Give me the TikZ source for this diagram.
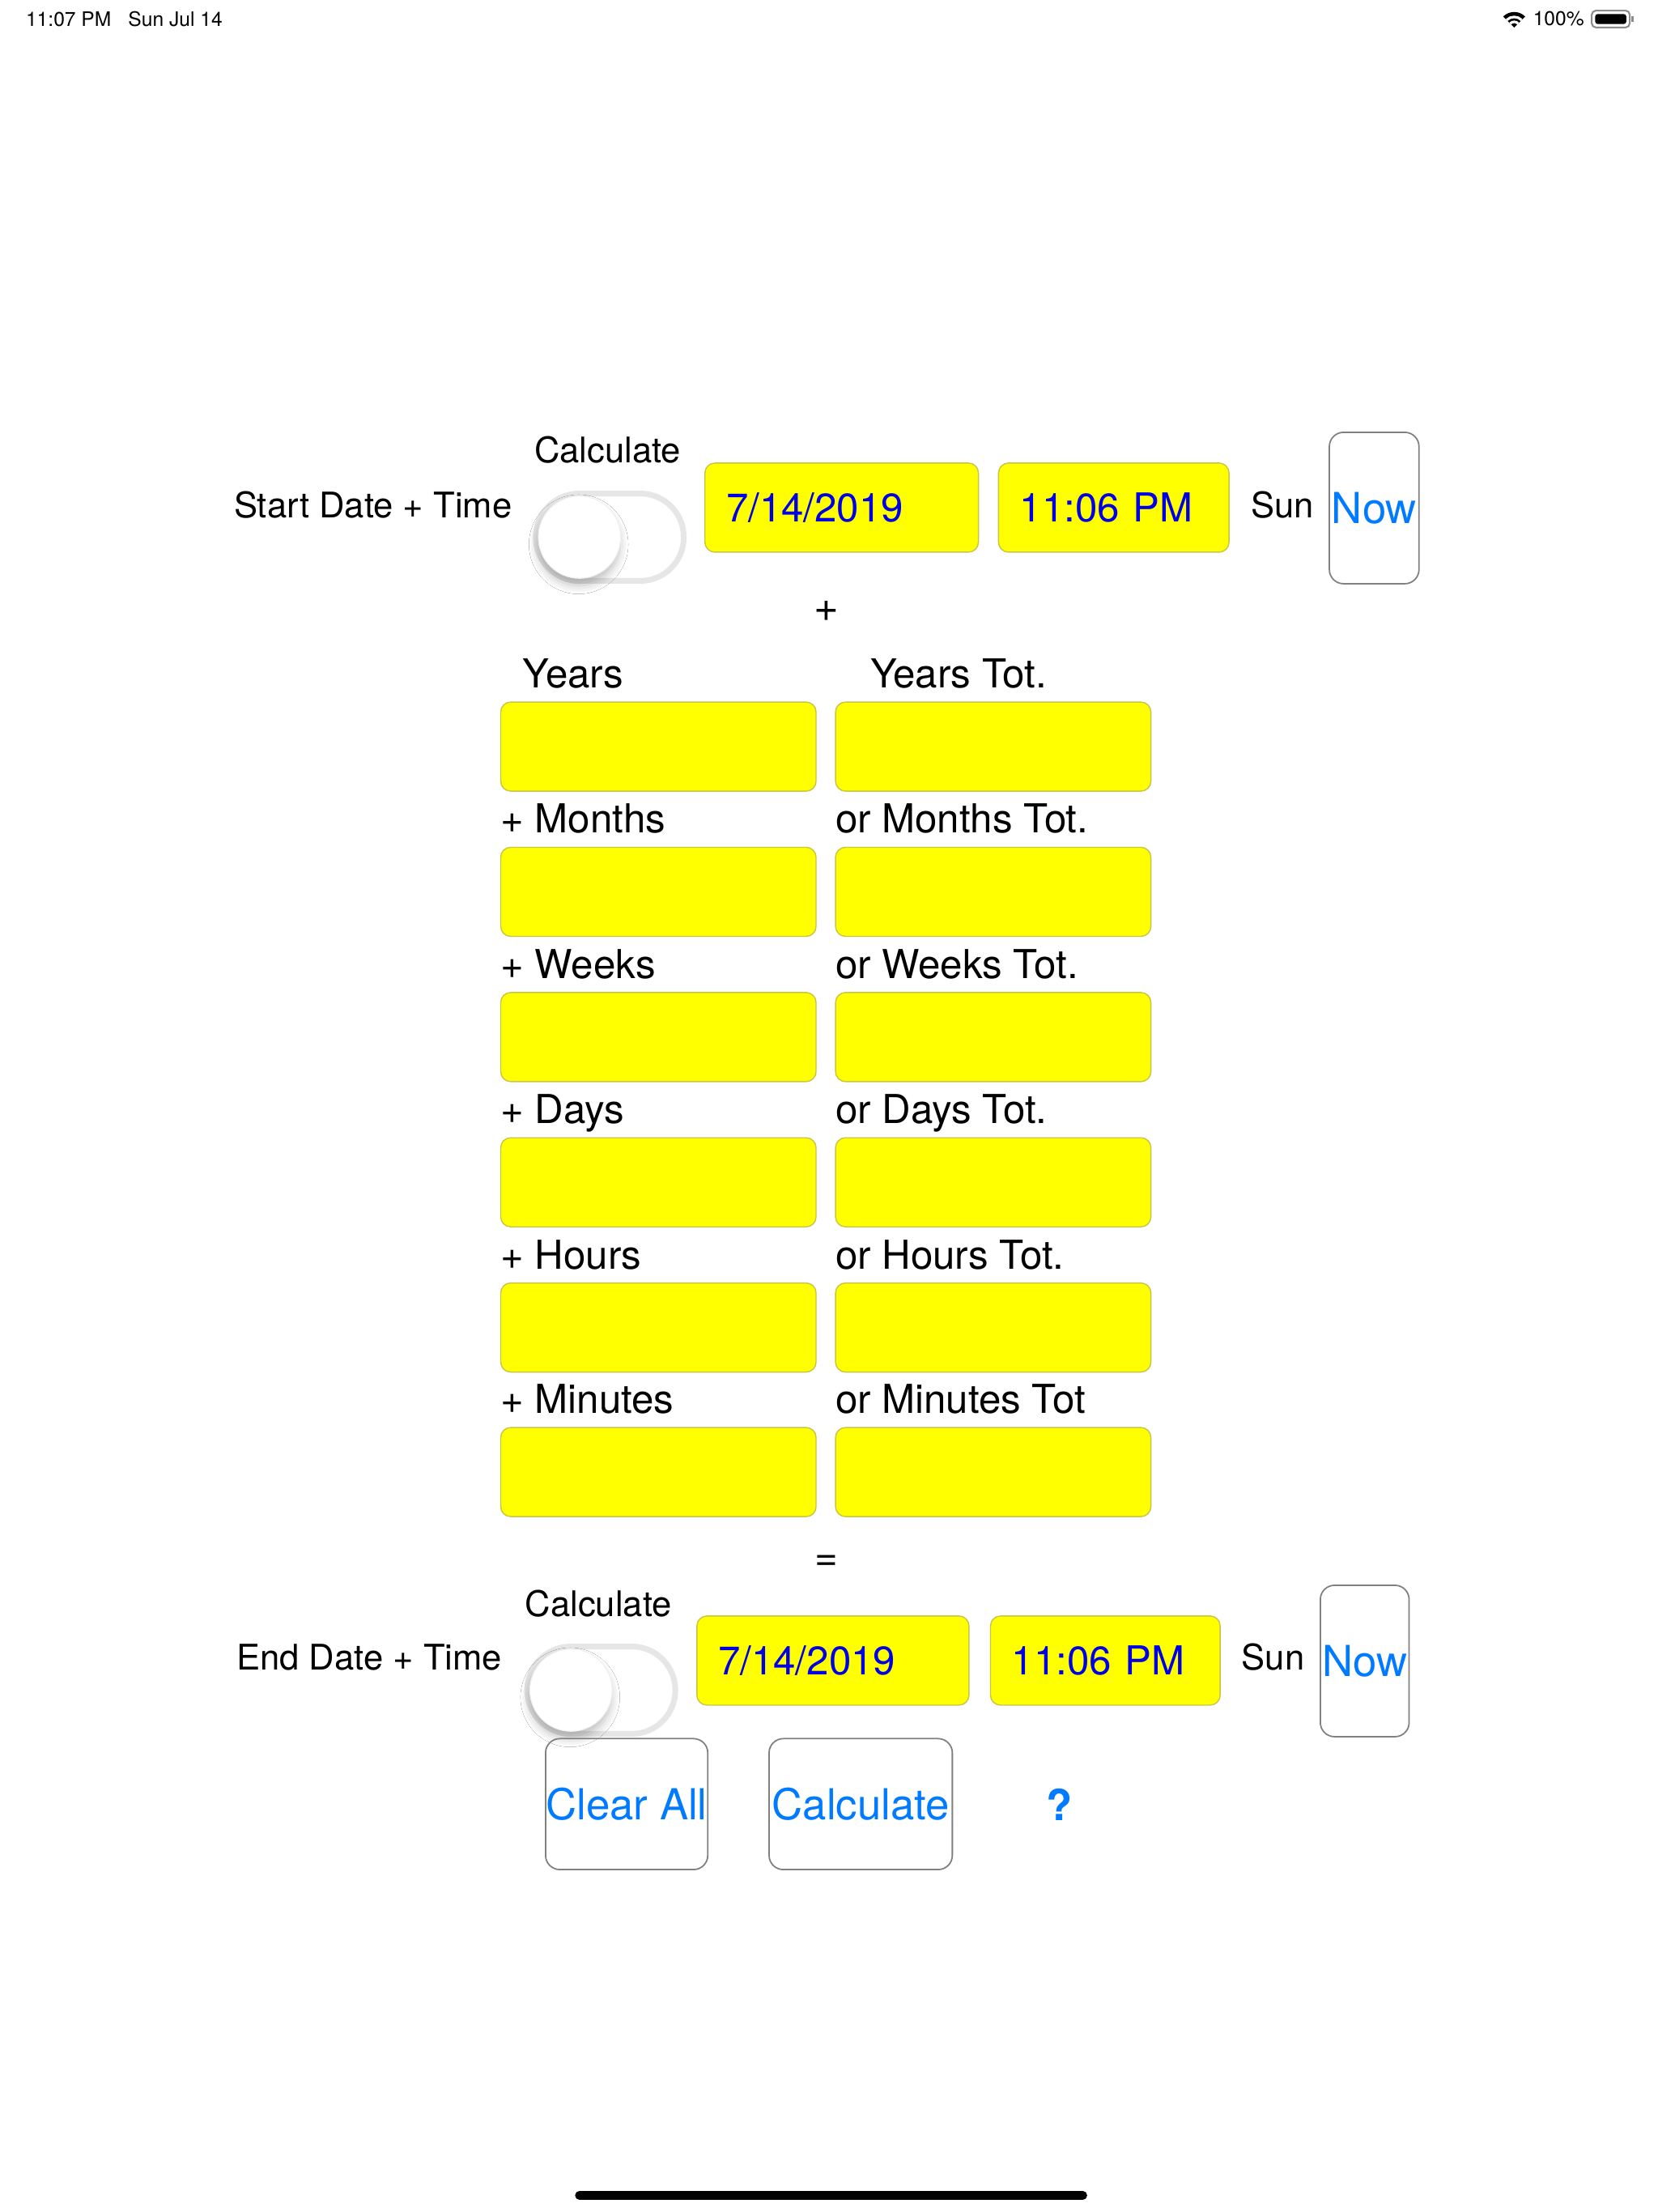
\documentclass[tikz,border=0pt]{standalone}
\usepackage{fontspec}
\setmainfont{TeX Gyre Heros}
\usetikzlibrary{positioning,shadows.blur}
\definecolor{fieldyellow}{RGB}{255,255,0}
\definecolor{fieldedge}{RGB}{200,196,70}
\definecolor{iosblue}{RGB}{0,122,255}
\definecolor{datablue}{RGB}{0,0,230}
\definecolor{switchedge}{RGB}{230,230,230}
\newcommand{\sz}[1]{\fontsize{#1}{#1}\selectfont}

\begin{document}
\begin{tikzpicture}[x=0.017415cm,y=-0.017415cm,node distance=1ex,
    field/.style={draw=fieldedge,line width=0.4pt,fill=fieldyellow,
      rounded corners=3.5pt,minimum width=110.8pt,minimum height=31.3pt},
    value/.style={field,minimum width=0pt,text=datablue,font=\sz{14},
      align=left,inner xsep=7.5pt,inner ysep=0pt},
    lbl/.style={font=\sz{14},inner sep=0pt},
    small/.style={font=\sz{12.4},inner sep=0pt},
    button/.style={draw=black!50,line width=0.5pt,rounded corners=5pt,
      text=iosblue,font=\sz{15},inner sep=0pt},
    switch/.style={draw=switchedge,line width=2pt,fill=white,
      rounded corners=15.3pt,minimum width=52pt,minimum height=30.7pt},
    knob/.style={circle,fill=white,draw=black!6,line width=0.3pt,
      minimum size=28.9pt,inner sep=0pt,
      blur shadow={shadow xshift=-0.3pt,shadow yshift=-2.5pt,
        shadow blur radius=3pt,shadow opacity=25}}]

  \useasboundingbox [fill=white] (0,0) rectangle (1176,1568.8);

  % status bar
  \node [font=\sz{7},inner sep=0pt,anchor=west] (clock) at (18,13.5)
        {11:07 PM\hspace{6pt}Sun Jul 14};
  \fill (1074,19.5) -- ++(225:11) arc[start angle=225,end angle=315,radius=11]
        -- cycle;
  \draw [white,line width=0.9pt] (1074,19.5) ++(225:4) arc[start angle=225,end angle=315,radius=4];
  \draw [white,line width=0.9pt] (1074,19.5) ++(225:7.5) arc[start angle=225,end angle=315,radius=7.5];
  \node [font=\sz{7},inner sep=0pt,anchor=east] (battery) at (1124,13.5) {100\%};
  \draw [black!45,line width=0.6pt,rounded corners=1.5pt] (1129,7.5) rectangle (1156,19.5);
  \fill [rounded corners=0.8pt] (1131.5,10) rectangle (1153.5,17);
  \fill [black!45] (1157,11.5) rectangle (1159,15.5);

  % start date + time
  \node [small,anchor=base east] (startlbl) at (363.5,367) {Start Date + Time};
  \node [small,anchor=base] (calc1) at (431,328.3) {Calculate};
  \node [switch] (sw1) at (432.5,381) {};
  \node [knob] (knob1) at (411,381) {};
  \node [value,text width=81.1pt,minimum height=31.3pt] (date1) at (597,360) {7/14/2019};
  \node [value,text width=66pt,minimum height=31.3pt] (time1) at (790,360) {11:06 PM};
  \node [small,anchor=base west] (day1) at (887,367) {Sun};
  \node [button,minimum width=31.5pt,minimum height=53.2pt] (now1)
        at (974.7,360.3) {Now};

  \node [font=\sz{15},inner sep=0pt] (plus) at (586,433.5) {+};

  % years .. minutes
  \node [field] (yrs)    at (467,529.5)  {};
  \node [field] (yrsT)   at (704.5,529.5) {};
  \node [field] (mon)    at (467,632.5)  {};
  \node [field] (monT)   at (704.5,632.5) {};
  \node [field] (wks)    at (467,735.5)  {};
  \node [field] (wksT)   at (704.5,735.5) {};
  \node [field] (dys)    at (467,838.5)  {};
  \node [field] (dysT)   at (704.5,838.5) {};
  \node [field] (hrs)    at (467,941.5)  {};
  \node [field] (hrsT)   at (704.5,941.5) {};
  \node [field] (mins)   at (467,1044)   {};
  \node [field] (minsT)  at (704.5,1044) {};

  \node [lbl,above=4.8pt of yrs.north west,anchor=base west,xshift=7.7pt]
        (yrsL) {Years};
  \node [lbl,above=4.8pt of yrsT.north west,anchor=base west,xshift=12.2pt]
        (yrsTL) {Years Tot.};
  \node [lbl,above=4.8pt of mon.north west,anchor=base west] (monL) {+ Months};
  \node [lbl,above=4.8pt of monT.north west,anchor=base west] (monTL) {or Months Tot.};
  \node [lbl,above=4.8pt of wks.north west,anchor=base west] (wksL) {+ Weeks};
  \node [lbl,above=4.8pt of wksT.north west,anchor=base west] (wksTL) {or Weeks Tot.};
  \node [lbl,above=4.8pt of dys.north west,anchor=base west] (dysL) {+ Days};
  \node [lbl,above=4.8pt of dysT.north west,anchor=base west] (dysTL) {or Days Tot.};
  \node [lbl,above=4.8pt of hrs.north west,anchor=base west] (hrsL) {+ Hours};
  \node [lbl,above=4.8pt of hrsT.north west,anchor=base west] (hrsTL) {or Hours Tot.};
  \node [lbl,above=4.8pt of mins.north west,anchor=base west] (minsL) {+ Minutes};
  \node [lbl,above=4.8pt of minsT.north west,anchor=base west] (minsTL) {or Minutes Tot};

  \node [font=\sz{14},inner sep=0pt] (equals) at (586,1108.5) {=};

  % end date + time
  \node [small,anchor=base east] (endlbl) at (356.4,1184.6) {End Date + Time};
  \node [small,anchor=base] (calc2) at (424.5,1146.7) {Calculate};
  \node [switch] (sw2) at (426.5,1198.7) {};
  \node [knob] (knob2) at (405,1198.7) {};
  \node [value,text width=80.6pt,minimum height=31.3pt] (date2) at (590.8,1177.7) {7/14/2019};
  \node [value,text width=65.7pt,minimum height=31.3pt] (time2) at (784,1177.7) {11:06 PM};
  \node [small,anchor=base west] (day2) at (880.3,1184.6) {Sun};
  \node [button,minimum width=31.2pt,minimum height=53.2pt] (now2)
        at (968,1178) {Now};

  % buttons
  \node [button,minimum width=57pt,minimum height=46pt] (clear)
        at (444.5,1279.5) {Clear All};
  \node [button,minimum width=64.4pt,minimum height=46pt] (calcBtn)
        at (610.5,1279.5) {Calculate};
  \node [text=iosblue,font=\sz{15}\bfseries,inner sep=0pt] (help)
        at (751.7,1280) {?};

  % home indicator
  \draw [line width=3.1pt,line cap=round] (411,1557) -- (768,1557);

\end{tikzpicture}
\end{document}
